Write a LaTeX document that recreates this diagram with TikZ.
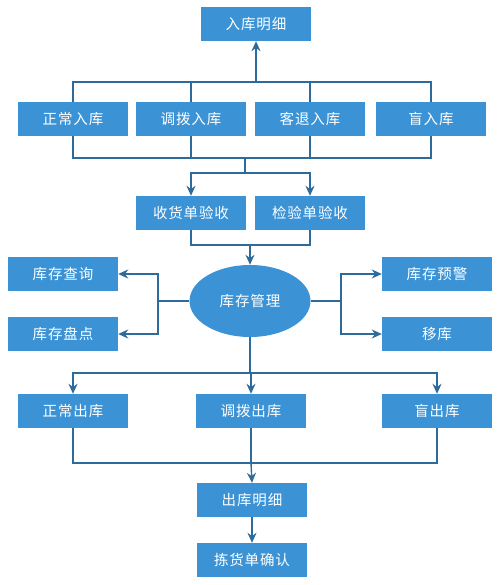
\documentclass[tikz,border=0pt]{standalone}
\usepackage{fontspec}
\newfontfamily\cjk{Noto Sans CJK SC}[LetterSpace=6]
\usetikzlibrary{arrows.meta,shapes.geometric}
\definecolor{boxblue}{HTML}{3B93D6}
\definecolor{lineblue}{HTML}{2C6B9C}
\begin{document}
\begin{tikzpicture}[x=1pt,y=-1pt,
  box/.style={fill=boxblue, text=white, minimum width=110pt, minimum height=34pt, inner sep=0pt, font=\cjk\fontsize{14.5}{14.5}\selectfont},
  conn/.style={draw=lineblue, line width=1.4pt},
  arr/.style={conn, -{Stealth[length=10pt,width=9pt]}}]
\useasboundingbox (0,0) rectangle (500,585);
\node[box] (in) at (256,24) {入库明细};
\node[box] (z1) at (73,119) {正常入库};
\node[box] (d1) at (191,119) {调拨入库};
\node[box] (k1) at (310,119) {客退入库};
\node[box] (m1) at (431,119) {盲入库};
\node[box] (sh) at (191,213) {收货单验收};
\node[box] (jy) at (310,213) {检验单验收};
\node[box, ellipse, minimum width=121pt, minimum height=72pt] (ell) at (250,301) {库存管理};
\node[box] (cx) at (63,274) {库存查询};
\node[box] (pd) at (63,334) {库存盘点};
\node[box] (yj) at (437,274) {库存预警};
\node[box] (yk) at (437,334) {移库};
\node[box] (zc) at (73,411) {正常出库};
\node[box] (dc) at (251,411) {调拨出库};
\node[box] (mc) at (437,411) {盲出库};
\node[box] (cm) at (252,500) {出库明细};
\node[box] (jh) at (252,560) {拣货单确认};
% inbound top
\coordinate (t) at (256,82);
\draw[conn] (z1.north) |- (t) -| (m1.north);
\draw[conn] (d1.north) -- (d1.north |- t);
\draw[conn] (k1.north) -- (k1.north |- t);
\draw[arr] (t) -- (in.south);
% inbound bottom
\coordinate (b) at (245,158);
\coordinate (b2) at (245,173);
\draw[conn] (z1.south) |- (b) -| (m1.south);
\draw[conn] (d1.south) -- (d1.south |- b);
\draw[conn] (k1.south) -- (k1.south |- b);
\draw[conn] (b) -- (b2);
\draw[arr] (b2) -| (sh.north);
\draw[arr] (b2) -| (jy.north);
% to management
\coordinate (c) at (250,245);
\draw[conn] (sh.south) |- (c) -| (jy.south);
\draw[arr] (c) -- (ell.north);
% left
\coordinate (l) at (158,301);
\draw[conn] (ell.west) -- (l);
\draw[arr] (l) |- (cx.east);
\draw[arr] (l) |- (pd.east);
% right
\coordinate (r) at (341,301);
\draw[conn] (ell.east) -- (r);
\draw[arr] (r) |- (yj.west);
\draw[arr] (r) |- (yk.west);
% outbound
\coordinate (d) at (250,373);
\draw[conn] (ell.south) -- (d);
\draw[arr] (d) -| (zc.north);
\draw[arr] (d) -| (mc.north);
\draw[arr] (d) -- (d -| dc.north) -- (dc.north);
\coordinate (e) at (251,463);
\draw[conn] (zc.south) |- (e) -| (mc.south);
\draw[conn] (dc.south) -- (e);
\draw[arr] (e) -- (cm.north);
\draw[arr] (cm.south) -- (jh.north);
\end{tikzpicture}
\end{document}
